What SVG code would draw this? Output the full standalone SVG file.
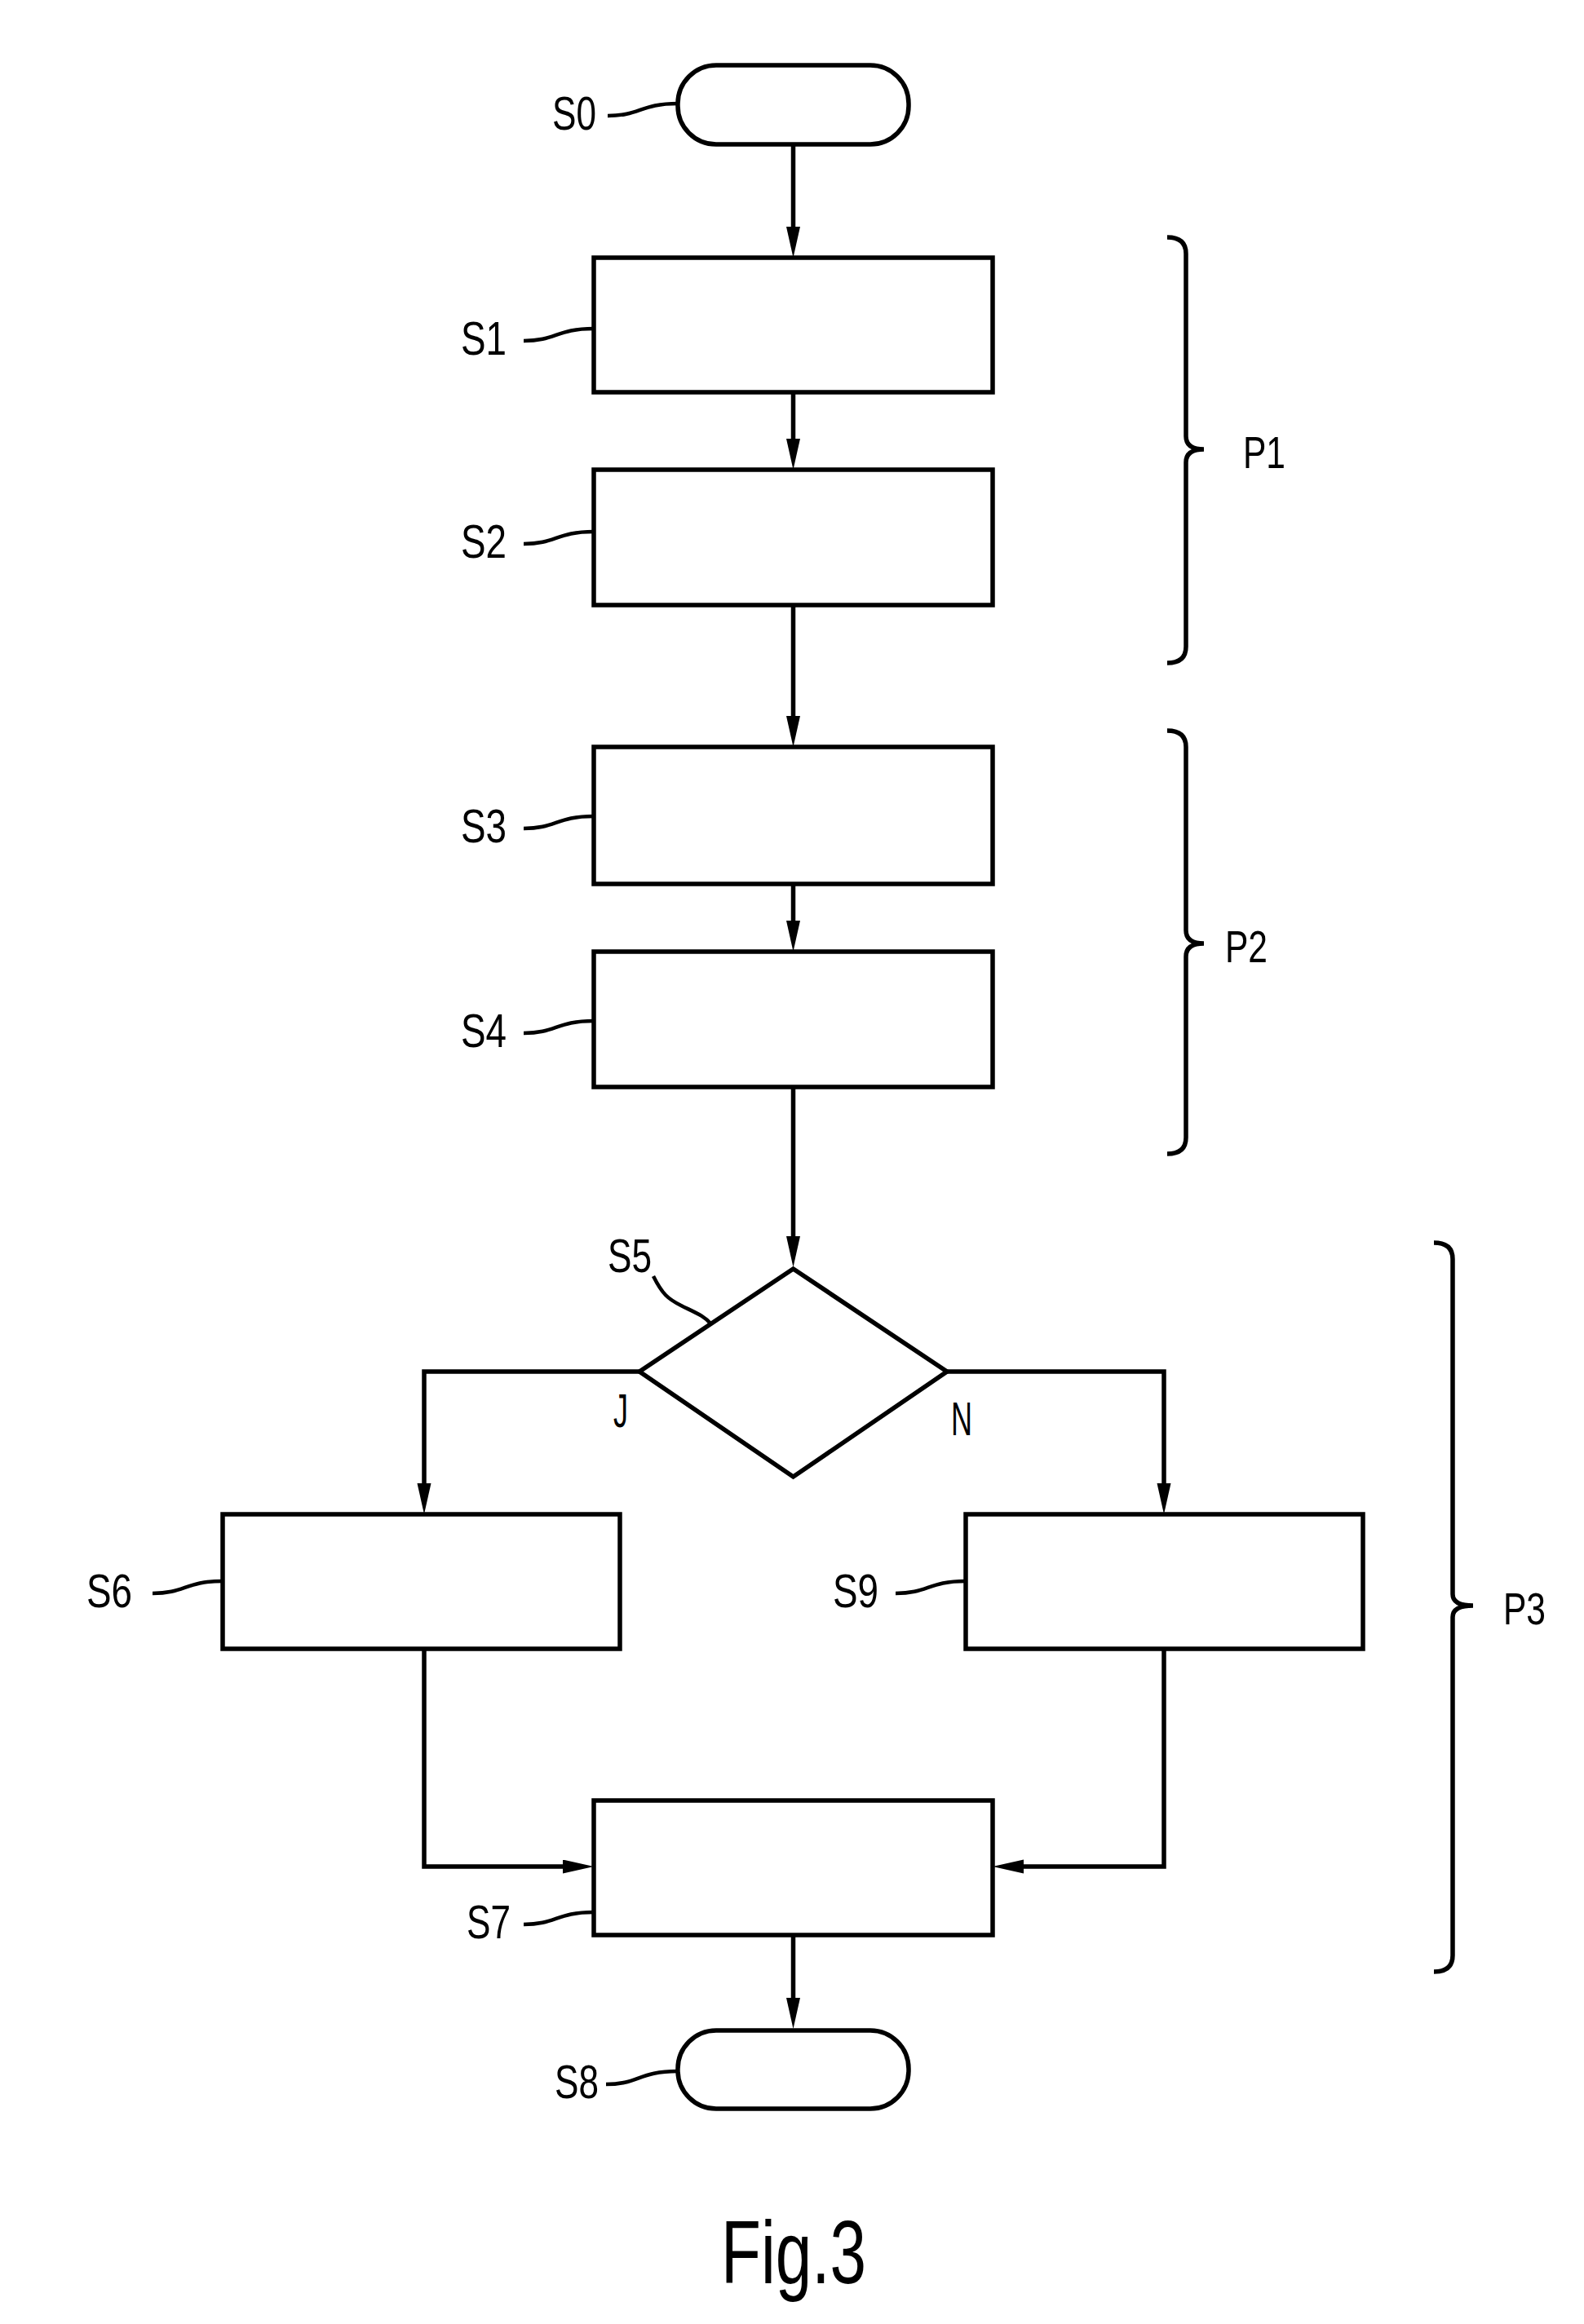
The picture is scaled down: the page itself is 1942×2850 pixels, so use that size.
<svg xmlns="http://www.w3.org/2000/svg" width="1942" height="2850" viewBox="0 0 1942 2850">
<defs>
<style>
.n{fill:#fff;stroke:#000;stroke-width:5.5}
.c{fill:none;stroke:#000;stroke-width:5.5}
.l{fill:none;stroke:#000;stroke-width:4.5}
.t{font-family:"Liberation Sans",Arial,sans-serif;font-size:58px;fill:#000}
.p{font-family:"Liberation Sans",Arial,sans-serif;font-size:56px;fill:#000}
.f{font-family:"Liberation Sans",Arial,sans-serif;font-size:109px;fill:#000}
</style>
<marker id="ah" markerUnits="userSpaceOnUse" markerWidth="42" markerHeight="18" refX="2" refY="8.5" orient="auto">
<path d="M0,0 L38,8.5 L0,17 Z" fill="#000"/>
</marker>
</defs>
<rect width="1942" height="2850" fill="#fff"/>
<g id="connectors">
<line class="c" x1="972.5" y1="177" x2="972.5" y2="280" marker-end="url(#ah)"/>
<line class="c" x1="972.5" y1="481" x2="972.5" y2="540" marker-end="url(#ah)"/>
<line class="c" x1="972.5" y1="742" x2="972.5" y2="880" marker-end="url(#ah)"/>
<line class="c" x1="972.5" y1="1084" x2="972.5" y2="1131" marker-end="url(#ah)"/>
<line class="c" x1="972.5" y1="1333" x2="972.5" y2="1518" marker-end="url(#ah)"/>
<path class="c" d="M784,1682 H520 V1821" marker-end="url(#ah)"/>
<path class="c" d="M1161,1682 H1427 V1821" marker-end="url(#ah)"/>
<path class="c" d="M520,2022 V2289 H692" marker-end="url(#ah)"/>
<path class="c" d="M1427,2022 V2289 H1253" marker-end="url(#ah)"/>
<line class="c" x1="972.5" y1="2373" x2="972.5" y2="2452" marker-end="url(#ah)"/>
</g>
<g id="S0">
<rect class="n" x="831" y="80" width="283" height="97" rx="47"/>
<path class="l" d="M745,142 c40,0 40,-15 86,-15"/>
<text class="t" x="677" y="159" textLength="54" lengthAdjust="spacingAndGlyphs">S0</text>
</g>
<g id="S1">
<rect class="n" x="728" y="316" width="489" height="165"/>
<path class="l" d="M642,418 c40,0 40,-15 86,-15"/>
<text class="t" x="565" y="435" textLength="56" lengthAdjust="spacingAndGlyphs">S1</text>
</g>
<g id="S2">
<rect class="n" x="728" y="576" width="489" height="166"/>
<path class="l" d="M642,667 c40,0 40,-15 86,-15"/>
<text class="t" x="565" y="684" textLength="56" lengthAdjust="spacingAndGlyphs">S2</text>
</g>
<g id="S3">
<rect class="n" x="728" y="916" width="489" height="168"/>
<path class="l" d="M642,1016 c40,0 40,-15 86,-15"/>
<text class="t" x="565" y="1033" textLength="56" lengthAdjust="spacingAndGlyphs">S3</text>
</g>
<g id="S4">
<rect class="n" x="728" y="1167" width="489" height="166"/>
<path class="l" d="M642,1267 c40,0 40,-15 86,-15"/>
<text class="t" x="565" y="1284" textLength="56" lengthAdjust="spacingAndGlyphs">S4</text>
</g>
<g id="S5">
<polygon class="n" points="972.5,1556 1161,1682 972.5,1811 784,1682"/>
<path class="l" d="M801,1565 C812,1587 819,1593 835,1601 C853,1610 864,1614 872,1624"/>
<text class="t" x="745" y="1560" textLength="54" lengthAdjust="spacingAndGlyphs">S5</text>
<text class="t" x="752" y="1750" textLength="18" lengthAdjust="spacingAndGlyphs">J</text>
<text class="t" x="1166" y="1760" textLength="26" lengthAdjust="spacingAndGlyphs">N</text>
</g>
<g id="S6">
<rect class="n" x="273" y="1857" width="487" height="165"/>
<path class="l" d="M187,1954 c40,0 40,-15 86,-15"/>
<text class="t" x="106" y="1971" textLength="56" lengthAdjust="spacingAndGlyphs">S6</text>
</g>
<g id="S9">
<rect class="n" x="1184" y="1857" width="487" height="165"/>
<path class="l" d="M1098,1954 c40,0 40,-15 86,-15"/>
<text class="t" x="1021" y="1971" textLength="56" lengthAdjust="spacingAndGlyphs">S9</text>
</g>
<g id="S7">
<rect class="n" x="728" y="2208" width="489" height="165"/>
<path class="l" d="M642,2360 c40,0 40,-15 86,-15"/>
<text class="t" x="572" y="2377" textLength="54" lengthAdjust="spacingAndGlyphs">S7</text>
</g>
<g id="S8">
<rect class="n" x="831" y="2490" width="283" height="96" rx="47"/>
<path class="l" d="M743,2556 c40,0 40,-16 88,-16"/>
<text class="t" x="680" y="2573" textLength="54" lengthAdjust="spacingAndGlyphs">S8</text>
</g>
<g id="P1">
<path class="c" d="M1431,291 Q1454,291 1454,311 V535 Q1454,551 1476,551 Q1454,551 1454,567 V793 Q1454,813 1431,813"/>
<text class="p" x="1524" y="574" textLength="52" lengthAdjust="spacingAndGlyphs">P1</text>
</g>
<g id="P2">
<path class="c" d="M1431,896 Q1454,896 1454,916 V1141 Q1454,1157 1476,1157 Q1454,1157 1454,1173 V1395 Q1454,1415 1431,1415"/>
<text class="p" x="1502" y="1180" textLength="52" lengthAdjust="spacingAndGlyphs">P2</text>
</g>
<g id="P3">
<path class="c" d="M1758,1524 Q1781,1524 1781,1544 V1955 Q1781,1969 1806,1969 Q1781,1969 1781,1983 V2398 Q1781,2418 1758,2418"/>
<text class="p" x="1843" y="1992" textLength="52" lengthAdjust="spacingAndGlyphs">P3</text>
</g>
<text class="f" x="884" y="2800" textLength="178" lengthAdjust="spacingAndGlyphs">Fig.3</text>
</svg>
